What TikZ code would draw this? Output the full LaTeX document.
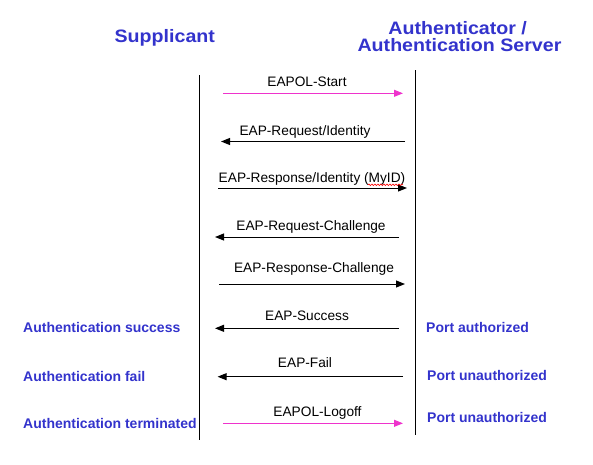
\documentclass[tikz,border=0pt]{standalone}
\usepackage{fontspec}
\setmainfont{Liberation Sans}
\newfontfamily\headfont[FakeStretch=1.09]{Liberation Sans}
\usepackage{tikz}
\usetikzlibrary{calc, positioning, arrows.meta, decorations.pathmorphing}
\definecolor{sideblue}{RGB}{51,51,204}
\definecolor{msgpink}{RGB}{238,51,204}
\tikzstyle{msg}=[draw=black, line width=1pt, -{Triangle[length=9pt,width=7pt]}]
\tikzstyle{pinkmsg}=[msg, draw=msgpink]
\tikzstyle{lbl}=[font=\fontsize{13.7}{15}\selectfont, inner sep=0pt, anchor=base]
\tikzstyle{status}=[font=\bfseries\fontsize{14}{16}\selectfont, text=sideblue, inner sep=0pt, anchor=base west]
\tikzstyle{head}=[font=\headfont\bfseries\fontsize{18}{19}\selectfont, text=sideblue, inner sep=0pt, anchor=base]

\begin{document}
\begin{tikzpicture}[x=1pt, y=-1pt]
			\useasboundingbox (0,0) rectangle (593,464);

			% headers
			\node[head] (sup) at (164.8,42.5) {Supplicant};
			\node[head] (auth) at (457.7,34) {Authenticator /};
			\node[head] (srv) at (459.5,51.5) {Authentication Server};

			% lifelines
			\coordinate (stop) at (199.5,75);
			\coordinate (sbot) at (199.5,440);
			\coordinate (atop) at (415.5,70);
			\coordinate (abot) at (415.5,435);
			\draw[line width=1pt] (stop) -- (sbot);
			\draw[line width=1pt] (atop) -- (abot);

			% message labels
			\node[lbl] (l1) at (307,86) {EAPOL-Start};
			\node[lbl] (l2) at (305,135) {EAP-Request/Identity};
			\node[lbl] (l3) at (312,182) {EAP-Response/Identity (MyID)};
			\node[lbl] (l4) at (311,230.5) {EAP-Request-Challenge};
			\node[lbl] (l5) at (314,272.5) {EAP-Response-Challenge};
			\node[lbl] (l6) at (307,320) {EAP-Success};
			\node[lbl] (l7) at (305,367.7) {EAP-Fail};
			\node[lbl] (l8) at (317.5,416) {EAPOL-Logoff};

			% message ends
			\coordinate (f1) at (223,93.3);   \coordinate (t1) at (403,93.3);
			\coordinate (f2) at (405,141.5);  \coordinate (t2) at (221,141.5);
			\coordinate (f3) at (218,188);    \coordinate (t3) at (407,188);
			\coordinate (f4) at (399,237);    \coordinate (t4) at (215,237);
			\coordinate (f5) at (219,284);    \coordinate (t5) at (405,284);
			\coordinate (f6) at (399,328.3);  \coordinate (t6) at (215,328.3);
			\coordinate (f7) at (403,376.7);  \coordinate (t7) at (217.6,376.7);
			\coordinate (f8) at (223,423.3);  \coordinate (t8) at (403,423.3);

			\path
			(f1) edge[pinkmsg] (t1)
			(f2) edge[msg] (t2)
			(f3) edge[msg] (t3)
			(f4) edge[msg] (t4)
			(f5) edge[msg] (t5)
			(f6) edge[msg] (t6)
			(f7) edge[msg] (t7)
			(f8) edge[pinkmsg] (t8)
			;

			% spell-check squiggle under MyID
			\coordinate (w1) at (368,184.8);
			\coordinate (w2) at (403,184.8);
			\draw[red, line width=0.6pt, decorate, decoration={snake, amplitude=0.8pt, segment length=3pt}] (w1) -- (w2);

			% states
			\node[status] (s1) at (23,332) {Authentication success};
			\node[status] (s2) at (23,381) {Authentication fail};
			\node[status] (s3) at (23,428) {Authentication terminated};
			\node[status] (p1) at (426,332) {Port authorized};
			\node[status] (p2) at (427,380) {Port unauthorized};
			\node[status] (p3) at (427,422) {Port unauthorized};
		\end{tikzpicture}
\end{document}
